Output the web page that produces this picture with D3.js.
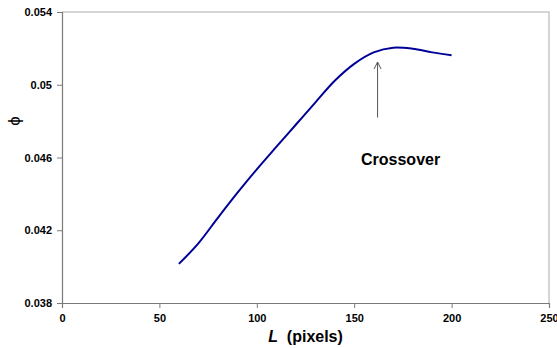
<!DOCTYPE html>
<html>
<head>
<meta charset="utf-8">
<script src="https://cdn.jsdelivr.net/npm/d3@7"></script>
<style>
  html, body { margin: 0; padding: 0; background: #fff; }
  svg { display: block; }
  text { font-family: "Liberation Sans", Arial, sans-serif; }
</style>
</head>
<body>
<svg id="chart" width="557" height="348"></svg>
<script>
const lengths = [60, 70, 80, 90, 100, 110, 120, 130, 140, 150, 160, 170, 180, 190, 200];
const phiValues = [0.04015, 0.04128, 0.04268, 0.04405, 0.04535, 0.04658, 0.04780, 0.04902, 0.05022, 0.05115, 0.05178, 0.05204, 0.05198, 0.05178, 0.05162];
const xTicks = [0, 50, 100, 150, 200, 250];
const yTicks = [0.038, 0.042, 0.046, 0.05, 0.054];
const yTickLabels = ["0.038", "0.042", "0.046", "0.05", "0.054"];
const annotation = { text: "Crossover", x: 162, yFrom: 0.0482, yTo: 0.05125 };

const margin = { left: 62, top: 12, right: 8, bottom: 45 };
const W = 557, H = 348;
const svg = d3.select("#chart");

const x = d3.scaleLinear().domain([0, 250]).range([margin.left, W - margin.right]);
const y = d3.scaleLinear().domain([0.038, 0.054]).range([H - margin.bottom, margin.top]);

// plot border (top & right light gray)
svg.append("path")
  .attr("d", `M${x(0)},${y(0.054)}H${x(250)}V${y(0.038)}`)
  .attr("fill", "none").attr("stroke", "#c8c8c8").attr("stroke-width", 1.5);

// axes
const xAxis = svg.append("g").attr("transform", `translate(0,${y(0.038)})`)
  .call(d3.axisBottom(x).tickValues(xTicks).tickSize(5).tickPadding(6).tickFormat(d3.format("d")));
const yAxis = svg.append("g").attr("transform", `translate(${x(0)},0)`)
  .call(d3.axisLeft(y).tickValues(yTicks).tickSize(5).tickPadding(5)
    .tickFormat((d, i) => yTickLabels[i]));
[xAxis, yAxis].forEach(g => {
  g.select(".domain").attr("stroke", "#7a7a7a").attr("stroke-width", 1.2);
  g.selectAll(".tick line").attr("stroke", "#7a7a7a");
  g.selectAll(".tick text").attr("fill", "#000").attr("font-size", 11).attr("font-weight", "bold")
    .attr("font-family", "Liberation Sans, Arial, sans-serif");
});

// curve
const data = lengths.map((L, i) => ({ L, v: phiValues[i] }));
svg.append("path").datum(data)
  .attr("d", d3.line().x(d => x(d.L)).y(d => y(d.v)).curve(d3.curveCatmullRom.alpha(0.5)))
  .attr("fill", "none").attr("stroke", "#000099").attr("stroke-width", 2);

// arrow annotation
const ax = x(annotation.x);
svg.append("line").attr("x1", ax).attr("x2", ax)
  .attr("y1", y(annotation.yFrom)).attr("y2", y(annotation.yTo))
  .attr("stroke", "#555").attr("stroke-width", 1);
svg.append("path")
  .attr("d", `M${ax - 3.5},${y(annotation.yTo) + 7}L${ax},${y(annotation.yTo)}L${ax + 3.5},${y(annotation.yTo) + 7}`)
  .attr("fill", "none").attr("stroke", "#555").attr("stroke-width", 1);
svg.append("text").attr("x", 361).attr("y", 165)
  .attr("font-size", 16).attr("font-weight", "bold").text(annotation.text);

// axis titles
const xt = svg.append("text").attr("x", (x(0) + x(250)) / 2).attr("y", 342)
  .attr("text-anchor", "middle").attr("font-size", 16).attr("font-weight", "bold");
xt.append("tspan").attr("font-style", "italic").text("L");
xt.append("tspan").text("\u00a0 (pixels)");

svg.append("text").attr("transform", `translate(20,121) rotate(-90)`)
  .attr("text-anchor", "middle").attr("font-size", 17).attr("font-family", "DejaVu Sans").text("ϕ");
</script>
</body>
</html>
